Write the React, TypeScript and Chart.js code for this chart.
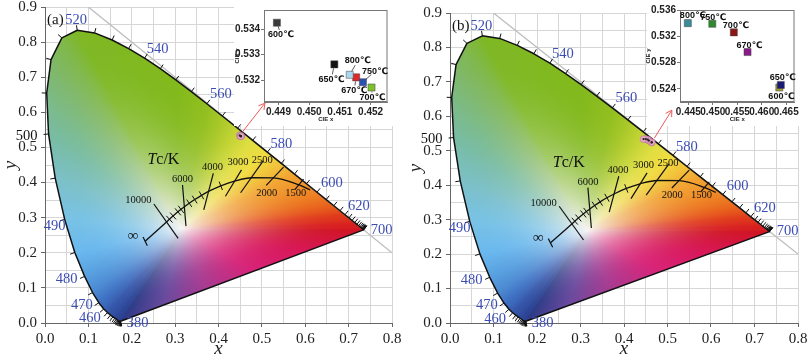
import React, { useEffect, useRef } from 'react';
import { Chart, registerables } from 'chart.js';
Chart.register(...registerables);

// ---------- CIE 1931 spectral locus ----------
const wavelengths = [380,385,390,395,400,405,410,415,420,425,430,435,440,445,450,455,460,465,470,475,480,485,490,495,500,505,510,515,520,525,530,535,540,545,550,555,560,565,570,575,580,585,590,595,600,605,610,615,620,625,630,635,640,645,650,655,660,665,670,675,680,685,690,695,700];
const locusX = [0.1741,0.1740,0.1738,0.1736,0.1733,0.1730,0.1726,0.1721,0.1714,0.1703,0.1689,0.1669,0.1644,0.1611,0.1566,0.1510,0.1440,0.1355,0.1241,0.1096,0.0913,0.0687,0.0454,0.0235,0.0082,0.0039,0.0139,0.0389,0.0743,0.1142,0.1547,0.1929,0.2296,0.2658,0.3016,0.3373,0.3731,0.4087,0.4441,0.4788,0.5125,0.5448,0.5752,0.6029,0.6270,0.6482,0.6658,0.6801,0.6915,0.7006,0.7079,0.7140,0.7190,0.7230,0.7260,0.7283,0.7300,0.7311,0.7320,0.7327,0.7334,0.7340,0.7344,0.7346,0.7347];
const locusY = [0.0050,0.0050,0.0049,0.0049,0.0048,0.0048,0.0048,0.0048,0.0051,0.0058,0.0069,0.0086,0.0109,0.0138,0.0177,0.0227,0.0297,0.0399,0.0578,0.0868,0.1327,0.2007,0.2950,0.4127,0.5384,0.6548,0.7502,0.8120,0.8338,0.8262,0.8059,0.7816,0.7543,0.7243,0.6923,0.6589,0.6245,0.5896,0.5547,0.5202,0.4866,0.4544,0.4242,0.3965,0.3725,0.3514,0.3340,0.3197,0.3083,0.2993,0.2920,0.2859,0.2809,0.2770,0.2740,0.2717,0.2700,0.2689,0.2680,0.2673,0.2666,0.2660,0.2656,0.2654,0.2653];

const wlLabels = [380,460,470,480,490,500,520,540,560,580,600,620,700];
const wlLabelDx = [17,-17.5,-17,-18,-10,-22,-1,13,14,14,15,14,18];
const wlLabelDy = [2,6,2,3,7,2,-10,-9,-9.5,-8,-9,-9,0];
const wlLabelColor = ['#3b4db4','#3b4db4','#3b4db4','#3b4db4','#3b4db4','#111','#3b4db4','#3b4db4','#3b4db4','#3b4db4','#3b4db4','#3b4db4','#3b4db4'];

// reference line x + y = 1
const diagX = [0.1, 0.8];
const diagY = [0.9, 0.2];

// ---------- Planckian locus ----------
const planckTemps = ['inf',10000,9000,8000,7000,6500,6000,5500,5000,4500,4000,3500,3000,2500,2000,1500,1300];
const planckX = [0.231,0.2807,0.2869,0.2952,0.3064,0.3135,0.3221,0.3325,0.3451,0.3608,0.3805,0.4053,0.4369,0.4770,0.5267,0.5857,0.611];
const planckY = [0.233,0.2884,0.2956,0.3048,0.3166,0.3237,0.3318,0.3411,0.3516,0.3636,0.3768,0.3907,0.4041,0.4137,0.4133,0.3931,0.379];
const minorTickTemps = [9000,8000,7000,6500,5500,5000,4500,3500];

const isoTemps = ['inf',10000,6000,4000,3000,2500,2000,1500];
const isoX1 = [0.226,0.251,0.317,0.388,0.453,0.503,0.550,0.596];
const isoY1 = [0.245,0.339,0.393,0.426,0.436,0.4615,0.444,0.410];
const isoX2 = [0.236,0.307,0.325,0.366,0.416,0.451,0.510,0.576];
const isoY2 = [0.220,0.241,0.276,0.322,0.361,0.371,0.392,0.380];

const isoLabelText = ['\u221E','10000','6000','4000','3000','2500','2000','1500'];
const isoLabelX = [0.203,0.215,0.317,0.386,0.445,0.501,0.511,0.578];
const isoLabelY = [0.248,0.349,0.409,0.444,0.458,0.464,0.370,0.370];
const tcLabelPos = [0.273, 0.466];

// ---------- sample data (insets) ----------
const tempsA = ['600\u2103','650\u2103','670\u2103','700\u2103','750\u2103','800\u2103'];
const cieXA = [0.44895,0.45082,0.45153,0.45203,0.45175,0.45132];
const cieYA = [0.53426,0.53262,0.53211,0.53171,0.53192,0.53221];
const colorsA = ['#3a3a3a','#111111','#e02828','#7cc02c','#2a50b0','#a8d8ee'];
const labelDxA = [4,-3,-2,1,12,8];
const labelDyA = [12,15,13,10,-11,-14];
const ticksXA = [0.449,0.450,0.451,0.452];
const ticksYA = [0.532,0.533,0.534];

const tempsB = ['600\u2103','650\u2103','670\u2103','700\u2103','750\u2103','800\u2103'];
const cieXB = [0.4636,0.4639,0.4571,0.4543,0.4499,0.4449];
const cieYB = [0.5242,0.5246,0.5296,0.5326,0.5339,0.5340];
const colorsB = ['#a09a30','#1a1a78','#8a1a8a','#8a1616','#2e8a2e','#3a8c98'];
const labelDxB = [2,2,2,2,1,5];
const labelDyB = [9,-7,-7,-7,-6,-8];
const ticksXB = [0.445,0.450,0.455,0.460,0.465];
const ticksYB = [0.524,0.528,0.532,0.536];

// ---------- colour styling of the diagram ----------
const edgeWl = [380,440,460,470,480,485,490,495,500,505,510,515,520,550,560,565,570,575,580,585,590,600,610,620,640,700];
const edgeCol = ['#2b3a86','#2c4596','#3556aa','#3f72c4','#58a0e0','#6ab8ee','#78c2e6','#7cc0c8','#78bca4','#7cba84','#80b866','#80b848','#7eb824','#82b91c','#92bf20','#a8c828','#c4d434','#e0de42','#f0dc40','#f2c23a','#f2a432','#ee8424','#e8601c','#e03c1c','#d82020','#d01424'];
const purpleT = [0,0.25,0.45,0.65,0.82,1];
const purpleCol = ['#d01424','#d8185a','#d82478','#a83c92','#6a4a9e','#2b3a86'];
const whitePoint = [0.315, 0.268];
const whiteRGB = [246,244,244];

const SERIF = "'Liberation Serif', 'Times New Roman', serif";
const SANS = "'Liberation Sans', 'DejaVu Sans', Arial, sans-serif";

function hexRgb(h: string) { const n = parseInt(h.slice(1), 16); return [(n >> 16) & 255, (n >> 8) & 255, n & 255]; }
function interpStops(pos: number[], cols: string[], v: number) {
  if (v <= pos[0]) return hexRgb(cols[0]);
  for (let i = 0; i < pos.length - 1; i++) {
    if (v <= pos[i + 1]) {
      const t = (v - pos[i]) / (pos[i + 1] - pos[i]);
      const a = hexRgb(cols[i]), b = hexRgb(cols[i + 1]);
      return [a[0] + (b[0] - a[0]) * t, a[1] + (b[1] - a[1]) * t, a[2] + (b[2] - a[2]) * t];
    }
  }
  return hexRgb(cols[cols.length - 1]);
}

const cieFill = {
  id: 'cieFill',
  beforeDatasetsDraw(chart: any) {
    const { ctx, chartArea } = chart;
    const xs = chart.scales.x, ys = chart.scales.y;
    const L = Math.floor(chartArea.left), T = Math.floor(chartArea.top);
    const W = Math.ceil(chartArea.right) - L, H = Math.ceil(chartArea.bottom) - T;
    const bx: number[] = [], by: number[] = [], bc: number[][] = [];
    for (let i = 0; i < wavelengths.length; i++) {
      bx.push(xs.getPixelForValue(locusX[i]) - L);
      by.push(ys.getPixelForValue(locusY[i]) - T);
      bc.push(interpStops(edgeWl, edgeCol, wavelengths[i]));
    }
    const n = wavelengths.length, NP = 40;
    for (let k = 1; k < NP; k++) {
      const t = k / NP;
      bx.push(bx[n - 1] + (bx[0] - bx[n - 1]) * t);
      by.push(by[n - 1] + (by[0] - by[n - 1]) * t);
      bc.push(interpStops(purpleT, purpleCol, t));
    }
    const cx = xs.getPixelForValue(whitePoint[0]) - L, cy = ys.getPixelForValue(whitePoint[1]) - T;
    const NB = 4096, m = bx.length;
    const dL = new Float32Array(NB + 1), cL = new Float32Array((NB + 1) * 3);
    for (let b = 0; b <= NB; b++) {
      const a = -Math.PI + (b * 2 * Math.PI) / NB;
      const dx = Math.cos(a), dy = Math.sin(a);
      let best = -1, bt = 0, bi = 0;
      for (let i = 0; i < m; i++) {
        const j = (i + 1) % m;
        const ex = bx[j] - bx[i], ey = by[j] - by[i];
        const px = bx[i] - cx, py = by[i] - cy;
        const den = -dx * ey + dy * ex;
        if (Math.abs(den) < 1e-12) continue;
        const r = (-px * ey + ex * py) / den;
        const t = (dx * py - px * dy) / den;
        if (t >= -1e-9 && t <= 1 + 1e-9 && r > 0) {
          if (best < 0 || r < best) { best = r; bt = t; bi = i; }
        }
      }
      dL[b] = best < 0 ? 0 : best;
      const c0 = bc[bi], c1 = bc[(bi + 1) % m];
      cL[b * 3] = c0[0] + (c1[0] - c0[0]) * bt;
      cL[b * 3 + 1] = c0[1] + (c1[1] - c0[1]) * bt;
      cL[b * 3 + 2] = c0[2] + (c1[2] - c0[2]) * bt;
    }
    const off = document.createElement('canvas');
    off.width = W; off.height = H;
    const octx = off.getContext('2d')!;
    const img = octx.createImageData(W, H);
    const data = img.data;
    for (let yy = 0; yy < H; yy++) {
      for (let xx = 0; xx < W; xx++) {
        const px = xx + 0.5 - cx, py = yy + 0.5 - cy;
        const r = Math.sqrt(px * px + py * py);
        const a = Math.atan2(py, px);
        const f = ((a + Math.PI) / (2 * Math.PI)) * NB;
        let i0 = Math.floor(f); if (i0 >= NB) i0 = NB - 1; if (i0 < 0) i0 = 0;
        const fr = f - i0;
        const d = dL[i0] * (1 - fr) + dL[i0 + 1] * fr;
        if (r > d + 1) continue;
        const alpha = Math.max(0, Math.min(1, d - r + 0.5));
        const s = Math.min(1, r / d);
        const g = 1 - Math.pow(1 - s, 2.4);
        const o = (yy * W + xx) * 4;
        for (let k = 0; k < 3; k++) {
          const ec = cL[i0 * 3 + k] * (1 - fr) + cL[(i0 + 1) * 3 + k] * fr;
          data[o + k] = whiteRGB[k] * (1 - g) + ec * g;
        }
        data[o + 3] = alpha * 255;
      }
    }
    octx.putImageData(img, 0, 0);
    ctx.drawImage(off, L, T);
  },
};

function makeOverlay(panel: any) {
  return {
    id: 'cieOverlay',
    afterDatasetsDraw(chart: any) {
      const { ctx, chartArea } = chart;
      const xs = chart.scales.x, ys = chart.scales.y;
      const wx = xs.getPixelForValue(whitePoint[0]), wy = ys.getPixelForValue(whitePoint[1]);
      const P = locusX.map((x, i) => [xs.getPixelForValue(x), ys.getPixelForValue(locusY[i])]);
      ctx.save();
      // white panel behind the inset
      const wb = panel.whiteBox;
      ctx.fillStyle = '#fff';
      ctx.fillRect(wb[0], wb[1], wb[2] - wb[0], wb[3] - wb[1]);
      // wavelength ticks
      ctx.strokeStyle = '#111'; ctx.lineWidth = 1;
      for (let i = 0; i < P.length; i++) {
        const a = P[Math.max(0, i - 1)], b = P[Math.min(P.length - 1, i + 1)];
        let tx = b[0] - a[0], ty = b[1] - a[1];
        const len = Math.hypot(tx, ty) || 1; tx /= len; ty /= len;
        let nx = -ty, ny = tx;
        if (nx * (P[i][0] - wx) + ny * (P[i][1] - wy) < 0) { nx = -nx; ny = -ny; }
        ctx.beginPath();
        ctx.moveTo(P[i][0], P[i][1]);
        ctx.lineTo(P[i][0] + nx * 5, P[i][1] + ny * 5);
        ctx.stroke();
      }
      // wavelength labels
      ctx.font = `14.5px ${SERIF}`;
      ctx.textAlign = 'center'; ctx.textBaseline = 'middle';
      wlLabels.forEach((wl, k) => {
        const i = wavelengths.indexOf(wl);
        ctx.fillStyle = wlLabelColor[k];
        ctx.fillText(String(wl), P[i][0] + wlLabelDx[k], P[i][1] + wlLabelDy[k]);
      });
      // minor ticks on Planckian locus
      ctx.strokeStyle = '#111'; ctx.lineWidth = 1;
      const Q = planckX.map((x, i) => [xs.getPixelForValue(x), ys.getPixelForValue(planckY[i])]);
      minorTickTemps.forEach((t) => {
        const i = planckTemps.indexOf(t as any);
        const a = Q[i - 1], b = Q[i + 1];
        let tx = b[0] - a[0], ty = b[1] - a[1];
        const len = Math.hypot(tx, ty) || 1; tx /= len; ty /= len;
        const nx = -ty, ny = tx;
        ctx.beginPath();
        ctx.moveTo(Q[i][0] - nx * 4.5, Q[i][1] - ny * 4.5);
        ctx.lineTo(Q[i][0] + nx * 4.5, Q[i][1] + ny * 4.5);
        ctx.stroke();
      });
      // isotherm labels
      ctx.fillStyle = '#111';
      isoLabelText.forEach((t, k) => {
        ctx.font = t === '\u221E' ? `15px ${SERIF}` : `10.5px ${SERIF}`;
        ctx.fillText(t, xs.getPixelForValue(isoLabelX[k]), ys.getPixelForValue(isoLabelY[k]));
      });
      // Tc/K
      {
        const px = xs.getPixelForValue(tcLabelPos[0]), py = ys.getPixelForValue(tcLabelPos[1]);
        ctx.textAlign = 'left';
        ctx.font = `italic 16px ${SERIF}`;
        const w1 = ctx.measureText('T').width;
        ctx.font = `16px ${SERIF}`;
        const w2 = ctx.measureText('c/K').width;
        const x0 = px - (w1 + w2) / 2;
        ctx.font = `italic 16px ${SERIF}`;
        ctx.fillText('T', x0, py);
        ctx.font = `16px ${SERIF}`;
        ctx.fillText('c/K', x0 + w1, py);
      }
      // panel label
      ctx.font = `15px ${SERIF}`;
      ctx.textAlign = 'left';
      ctx.fillStyle = '#111';
      ctx.fillText(panel.label, chartArea.left + 2, chartArea.top + 13);
      // arrow from sample marker to inset
      const mx = xs.getPixelForValue(panel.cieX[0]), my = ys.getPixelForValue(panel.cieY[0]);
      const axp = xs.getPixelForValue(panel.arrowTo[0]), ayp = ys.getPixelForValue(panel.arrowTo[1]);
      let ux = axp - mx, uy = ayp - my;
      const ul = Math.hypot(ux, uy); ux /= ul; uy /= ul;
      ctx.strokeStyle = '#ee5a5a'; ctx.lineWidth = 1;
      ctx.beginPath();
      ctx.moveTo(mx + ux * 5, my + uy * 5);
      ctx.lineTo(axp, ayp);
      ctx.moveTo(axp - ux * 6 - uy * 3.5, ayp - uy * 6 + ux * 3.5);
      ctx.lineTo(axp, ayp);
      ctx.lineTo(axp - ux * 6 + uy * 3.5, ayp - uy * 6 - ux * 3.5);
      ctx.stroke();
      ctx.restore();
    },
  };
}

const isMajor = (v: number) => Math.abs(v * 10 - Math.round(v * 10)) < 1e-6;

function mainConfig(panel: any) {
  const line = (xsArr: number[], ysArr: number[], color: string, width: number, extra: any = {}) => ({
    data: xsArr.map((x, i) => ({ x, y: ysArr[i] })),
    showLine: true, borderColor: color, borderWidth: width, pointRadius: 0, fill: false, ...extra,
  });
  const pts = panel.cieX.map((x: number, i: number) => ({ x, y: panel.cieY[i] }));
  const datasets: any[] = [
    { data: pts, showLine: false, pointRadius: 1.1, pointBackgroundColor: '#222', pointBorderWidth: 0 },
    { data: pts, showLine: false, pointRadius: 3.4, pointBackgroundColor: '#e9a6c6', pointBorderColor: '#a86890', pointBorderWidth: 0.5 },
    line(planckX, planckY, '#111', 1.3, { cubicInterpolationMode: 'monotone' }),
  ];
  isoTemps.forEach((_, k) => datasets.push(line([isoX1[k], isoX2[k]], [isoY1[k], isoY2[k]], '#111', 1.2)));
  datasets.push(line([...locusX, locusX[0]], [...locusY, locusY[0]], '#111', 1.5, { borderJoinStyle: 'round' }));
  datasets.push(line(diagX, diagY, '#bdbdbd', 1.3));

  const tickColor = (c: any) => (c.tick && isMajor(c.tick.value) ? '#666' : 'rgba(0,0,0,0)');
  return {
    type: 'scatter',
    data: { datasets },
    options: {
      animation: false, responsive: false, devicePixelRatio: 1,
      events: [],
      layout: { padding: { left: 0, right: 13, top: panel.top, bottom: 0 } },
      plugins: { legend: { display: false }, tooltip: { enabled: false } },
      scales: {
        x: {
          type: 'linear', min: 0, max: 0.8,
          ticks: { stepSize: 0.05, autoSkip: false, maxRotation: 0, padding: 3, color: '#222', font: { family: SERIF, size: 15 }, callback: (v: number) => (isMajor(v) ? v.toFixed(1) : '') },
          grid: { color: '#d6d6d6', lineWidth: 1, tickLength: 4, tickColor },
          border: { color: '#666', width: 1 },
          title: { display: true, text: 'x', color: '#222', font: { family: SERIF, size: 19, style: 'italic' }, padding: { top: 0, bottom: 4 } },
          afterFit: (s: any) => { s.height = 41; s.paddingLeft = 0; s.paddingRight = 0; },
        },
        y: {
          type: 'linear', min: 0, max: 0.9,
          ticks: { stepSize: 0.05, autoSkip: false, padding: 4, color: '#222', font: { family: SERIF, size: 15 }, callback: (v: number) => (isMajor(v) ? v.toFixed(1) : '') },
          grid: { color: '#d6d6d6', lineWidth: 1, tickLength: 4, tickColor },
          border: { color: '#666', width: 1 },
          title: { display: true, text: 'y', color: '#222', font: { family: SERIF, size: 19, style: 'italic' }, padding: { top: 0, bottom: 0 } },
          afterFit: (s: any) => { s.width = 45; s.paddingTop = 0; s.paddingBottom = 0; },
        },
      },
    },
    plugins: [cieFill, makeOverlay(panel)],
  };
}

function insetConfig(p: any) {
  const pts = p.cieX.map((x: number, i: number) => ({ x, y: p.cieY[i] }));
  const labelsPlugin = {
    id: 'insetLabels',
    afterDatasetsDraw(chart: any) {
      const { ctx, chartArea } = chart;
      ctx.save();
      ctx.strokeStyle = '#777'; ctx.lineWidth = 1;
      ctx.strokeRect(chartArea.left + 0.5, chartArea.top + 0.5, chartArea.right - chartArea.left - 1, chartArea.bottom - chartArea.top - 1);
      const meta = chart.getDatasetMeta(0);
      ctx.font = `bold 9px ${SANS}`;
      ctx.textAlign = 'center'; ctx.textBaseline = 'middle';
      meta.data.forEach((el: any, i: number) => {
        const dx = p.dx[i], dy = p.dy[i];
        const lx = el.x + dx, ly = el.y + dy;
        const d = Math.hypot(dx, dy);
        if (d > 10) {
          const ux = dx / d, uy = dy / d;
          ctx.strokeStyle = '#333'; ctx.lineWidth = 0.8;
          ctx.beginPath();
          ctx.moveTo(el.x + ux * 4, el.y + uy * 4);
          ctx.lineTo(lx - ux * 5, ly - uy * 5);
          ctx.stroke();
        }
        ctx.fillStyle = '#111';
        ctx.fillText(p.names[i], lx, ly);
      });
      ctx.restore();
    },
  };
  const tickFont = { family: SANS, size: 10, weight: 'bold' as const };
  return {
    type: 'scatter',
    data: { datasets: [{ data: pts, showLine: false, pointStyle: 'rect', pointRadius: 5, pointBackgroundColor: p.colors, pointBorderColor: '#444', pointBorderWidth: 0.5 }] },
    options: {
      animation: false, responsive: false, devicePixelRatio: 1, events: [],
      layout: { padding: { left: 0, right: 3, top: p.top, bottom: 0 } },
      plugins: { legend: { display: false }, tooltip: { enabled: false } },
      scales: {
        x: {
          type: 'linear', min: p.xMin, max: p.xMax,
          afterBuildTicks: (s: any) => { s.ticks = p.ticksX.map((v: number) => ({ value: v })); },
          ticks: { autoSkip: false, maxRotation: 0, padding: 1, color: '#222', font: tickFont, callback: (v: number) => v.toFixed(3) },
          grid: { drawOnChartArea: false, tickLength: 3, color: '#777' },
          border: { color: '#777' },
          title: { display: true, text: 'CIE x', color: '#222', font: { family: SANS, size: 6, weight: 'bold' }, padding: { top: 0, bottom: 3 } },
          afterFit: (s: any) => { s.height = 24; s.paddingLeft = 0; s.paddingRight = 0; },
        },
        y: {
          type: 'linear', min: p.yMin, max: p.yMax,
          afterBuildTicks: (s: any) => { s.ticks = p.ticksY.map((v: number) => ({ value: v })); },
          ticks: { autoSkip: false, padding: 1, color: '#222', font: tickFont, callback: (v: number) => v.toFixed(3) },
          grid: { drawOnChartArea: false, tickLength: 3, color: '#777' },
          border: { color: '#777' },
          title: { display: true, text: 'CIE y', color: '#222', font: { family: SANS, size: 6, weight: 'bold' }, padding: { top: 0, bottom: 0 } },
          afterFit: (s: any) => { s.width = p.yWidth; s.paddingTop = 0; s.paddingBottom = 0; },
        },
      },
    },
    plugins: [labelsPlugin],
  };
}

const panels = [
  {
    main: { left: 0, width: 405, top: 7, label: '(a)', cieX: cieXA, cieY: cieYA, arrowTo: [0.507, 0.626], whiteBox: [234, 0, 393, 126] },
    inset: { left: 234, width: 159, height: 126, top: 10, yWidth: 30, xMin: 0.44853, xMax: 0.45255, yMin: 0.53114, yMax: 0.53476,
      ticksX: ticksXA, ticksY: ticksYA, cieX: cieXA, cieY: cieYA, colors: colorsA, names: tempsA, dx: labelDxA, dy: labelDyA },
  },
  {
    main: { left: 405, width: 406, top: 13, label: '(b)', cieX: cieXB, cieY: cieYB, arrowTo: [0.510, 0.618], whiteBox: [242, 0, 395, 126] },
    inset: { left: 645, width: 155, height: 126, top: 10, yWidth: 35, xMin: 0.4433, xMax: 0.4667, yMin: 0.522, yMax: 0.536,
      ticksX: ticksXB, ticksY: ticksYB, cieX: cieXB, cieY: cieYB, colors: colorsB, names: tempsB, dx: labelDxB, dy: labelDyB },
  },
];

function ChartCanvas({ make, left, top, width, height, z }: any) {
  const ref = useRef<HTMLCanvasElement>(null);
  useEffect(() => {
    const c = new Chart(ref.current as HTMLCanvasElement, make() as any);
    return () => c.destroy();
  }, []);
  return (
    <canvas ref={ref} width={width} height={height}
      style={{ position: 'absolute', left, top, width, height, zIndex: z }} />
  );
}

export default function App() {
  return (
    <div style={{ position: 'fixed', left: 0, top: 0, width: 811, height: 364, background: '#fff', overflow: 'hidden' }}>
      {panels.map((p, i) => (
        <React.Fragment key={i}>
          <ChartCanvas make={() => mainConfig(p.main)} left={p.main.left} top={0} width={p.main.width} height={364} z={1} />
          <ChartCanvas make={() => insetConfig(p.inset)} left={p.inset.left} top={0} width={p.inset.width} height={p.inset.height} z={2} />
        </React.Fragment>
      ))}
    </div>
  );
}
